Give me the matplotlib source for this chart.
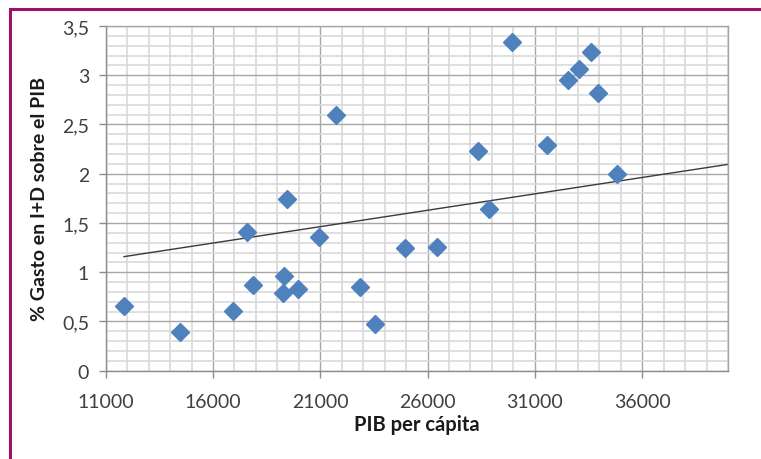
import numpy as np
import matplotlib
matplotlib.use("Agg")
from matplotlib import pyplot as plt
from matplotlib.patches import Rectangle
from matplotlib.ticker import MultipleLocator, FixedLocator, FuncFormatter

plt.rcParams['font.family'] = ['Lato', 'DejaVu Sans']

# PIB per capita vs % gasto en I+D
pib = [11853, 14464, 16921, 17573, 17881, 19312, 19252, 19951, 20958, 22855,
       23541, 21737, 19466, 29956, 33625, 33065, 32566, 33965, 28343, 31559,
       34851, 28883, 24953, 26459]
gasto = [0.652, 0.397, 0.608, 1.409, 0.866, 0.957, 0.788, 0.829, 1.362, 0.852,
         0.479, 2.597, 1.748, 3.334, 3.232, 3.065, 2.950, 2.818, 2.234, 2.291,
         1.996, 1.640, 1.246, 1.257]

# trend line as drawn in the original (end points)
trend_x = [11853, 40000]
trend_y = [1.158, 2.095]

x_ticks = [11000, 16000, 21000, 26000, 31000, 36000]

fig = plt.figure(figsize=(7.61, 4.60), dpi=100)
ax = fig.add_axes([0.1389, 0.1920, 0.8177, 0.7493])

ax.set_xlim(11000, 40000)
ax.set_ylim(0, 3.5)

ax.xaxis.set_major_locator(FixedLocator(x_ticks))
ax.xaxis.set_minor_locator(MultipleLocator(1000))
ax.yaxis.set_major_locator(MultipleLocator(0.5))
ax.yaxis.set_minor_locator(MultipleLocator(0.1))
ax.yaxis.set_major_formatter(FuncFormatter(lambda v, p: ('%g' % v).replace('.', ',')))

ax.grid(which='minor', color='#d9d9d9', lw=1.2, zorder=0)
ax.grid(which='major', color='#a6a6a6', lw=1.0, zorder=0)
ax.set_axisbelow(True)

for s in ax.spines.values():
    s.set_color('#a6a6a6')
    s.set_linewidth(1.0)
ax.spines['left'].set_color('#8c8c8c')
ax.spines['bottom'].set_color('#8c8c8c')

ax.tick_params(which='major', length=5, width=1, color='#8c8c8c',
               labelsize=14, labelcolor='#404040', pad=7)
ax.tick_params(axis='x', which='major', pad=11)
ax.tick_params(which='minor', length=0)

ax.plot(trend_x, trend_y, color='#3a3a3a', lw=1.0, zorder=2)
ax.plot(pib, gasto, 'D', color='#4f81bd', ms=9.5, mec='#4f81bd', zorder=3, clip_on=False)

ax.set_xlabel('PIB per cápita', fontsize=14.5, fontweight='bold', color='#1a1a1a', labelpad=3)
ax.set_ylabel('% Gasto en I+D sobre el PIB', fontsize=14, fontweight='bold', color='#1a1a1a', labelpad=10)

# purple frame
fig.patches.append(Rectangle((9.5 / 761, -0.1), 1.2, 1.1 - 9.5 / 460,
                             transform=fig.transFigure, fill=False,
                             edgecolor='#a0106a', lw=2.2))

fig.savefig('out.png', dpi=100)
